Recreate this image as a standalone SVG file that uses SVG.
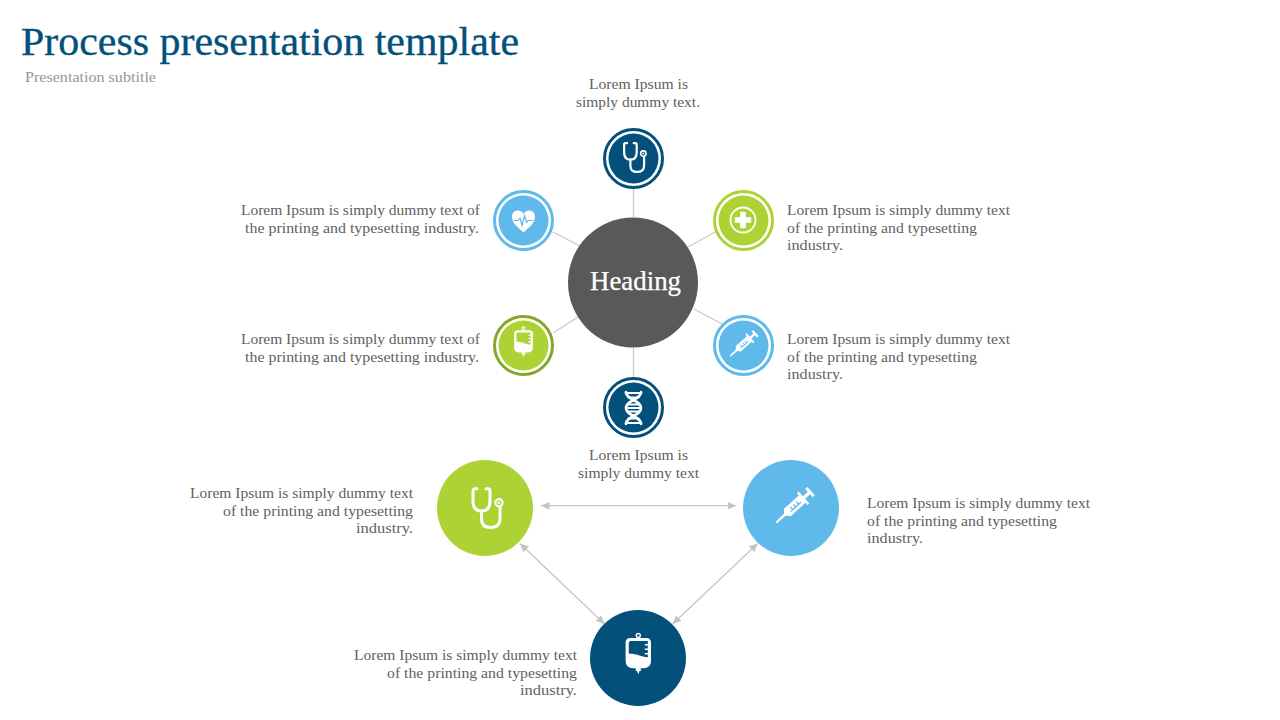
<svg xmlns="http://www.w3.org/2000/svg" width="1280" height="720" viewBox="0 0 1280 720">
<style>
text{font-family:"Liberation Serif","Times New Roman",serif;}
.b{font-size:15.5px;fill:#616161;}
.m{text-anchor:middle}
.title{font-size:40px;fill:#03507b;stroke:#03507b;stroke-width:.35px;}
.sub{font-size:14.5px;fill:#969696;}
.head{font-size:27px;fill:#fff;stroke:#fff;stroke-width:.25px;}
.ln{stroke:#c8c8c8;stroke-width:1.2;fill:none;}
.ar{stroke:#c4c4c4;stroke-width:1.2;fill:none;marker-start:url(#ah);marker-end:url(#ah);}
.wl{fill:none;stroke:#fff;stroke-linecap:round;stroke-linejoin:round;}
.navy{fill:#03507b}.sky{fill:#5fbaeb}.lime{fill:#acd333}
</style>
<defs>
<marker id="ah" markerUnits="userSpaceOnUse" markerWidth="10" markerHeight="9" refX="8.5" refY="4" orient="auto-start-reverse"><path d="M0,0 L8.5,4 L0,8 Z" fill="#c4c4c4"/></marker>
<g id="steth">
<path class="wl" stroke-width="3" d="M-8,-19.3 H-10 Q-12,-19.3 -12,-17 V-7 Q-12,3 -3.5,3 Q5,3 5,-7 V-17 Q5,-19.3 3,-19.3 H1"/>
<path class="wl" stroke-width="3" d="M-3.5,3 V11 Q-3.5,19.5 5.5,19.5 Q15,19.5 15,10 V-1"/>
<circle cx="14" cy="-5.3" r="3.6" fill="none" stroke="#fff" stroke-width="2.2"/>
<circle cx="14" cy="-5.3" r="1.3" fill="#fff"/>
</g>
<g id="syringe">
<g transform="translate(3,-1.5) rotate(-42)">
<path d="M-24,-0.9 L-12,-1.4 L-9,-5 H11 V-8 H13.5 V-1.6 H20 V-5.5 H23 V5.5 H20 V1.6 H13.5 V8 H11 V5 H-9 L-12,1.4 L-24,0.9 Z" fill="#fff"/>
<path d="M-6,1.5 H8 M-3,1.5 V-2 M1,1.5 V-2 M5,1.5 V-2" fill="none" stroke="currentColor" stroke-width="1.3"/>
</g>
</g>
<g id="bag">
<circle cx="0" cy="-22.5" r="2" fill="none" stroke="#fff" stroke-width="1.4"/>
<path d="M-8,-20 H8 Q12.7,-20 12.7,-15 V3 Q12.7,10.3 5,10.3 H2.5 V13 H1.2 L0,16.5 L-1.2,13 H-2.500 V10.3 H-5 Q-12.7,10.3 -12.7,3 V-15 Q-12.7,-20 -8,-20 Z" fill="#fff"/>
<path d="M-7.500,-17 H9.5 V-14 H6.5 V-12.5 H9.5 V-9.5 H6.500 V-8 H9.5 V-5 H6.500 V-3.500 H9.5 V-1 Q9.5,-0.500 8,-0.800 C2,-1.500 -2,-4.500 -9.500,-4.500 V-15 Q-9.500,-17 -7.500,-17 Z" fill="currentColor"/>
</g>
<g id="dna">
<path class="wl" stroke-width="2.6" d="M-7.5,-16 C-7.5,-8 7.5,-8 7.5,0 C7.5,8 -7.5,8 -7.5,16"/>
<path class="wl" stroke-width="2.6" d="M7.5,-16 C7.5,-8 -7.5,-8 -7.5,0 C-7.5,8 7.5,8 7.5,16"/>
<path class="wl" stroke-width="1.8" stroke-linecap="butt" d="M-8,-15 H8 M-5,-10.5 H5 M-5.5,-3.5 H5.5 M-7,0 H7 M-5.5,3.500 H5.5 M-5,10.5 H5 M-8,15 H8"/>
</g>
<g id="heart">
<path d="M0,12.5 C-6,7 -11.5,3 -11.5,-3.5 C-11.5,-7.5 -8.5,-9.5 -5.5,-9.5 C-3,-9.500 -1,-8 0,-6 C1,-8 3,-9.5 5.5,-9.5 C8.5,-9.5 11.500,-7.5 11.500,-3.5 C11.500,3 6,7 0,12.5 Z" fill="#fff"/>
<path d="M-9.500,0.500 H-5.500 L-3.500,-2 L-1.500,5.500 L1,-4.500 L3,2.500 L4.500,0.500 H9.500" fill="none" stroke="currentColor" stroke-width="1.2"/>
</g>
<g id="plus">
<circle r="12.5" fill="none" stroke="#fff" stroke-width="1.8"/>
<path d="M-2.3,-7.8 H2.3 V-2.3 H7.800 V2.300 H2.300 V7.800 H-2.300 V2.300 H-7.800 V-2.300 H-2.300 Z" fill="#fff" stroke="#fff" stroke-linejoin="round"/>
</g>
</defs>

<rect width="1280" height="720" fill="#fff"/>

<text class="title" x="21" y="55" textLength="498" lengthAdjust="spacingAndGlyphs">Process presentation template</text>
<text class="sub" x="25" y="82" textLength="131" lengthAdjust="spacingAndGlyphs">Presentation subtitle</text>

<g id="connectors">
<path class="ln" d="M633.5,189 V217 M633.5,348 V377 M553,232 L580,246 M688,247 L715,232 M553,333 L578,317 M694,309 L722,324"/>
<path class="ar" d="M541,505.7 H736"/>
<path class="ar" d="M520,543.5 L604.5,624"/>
<path class="ar" d="M757.7,543.5 L672.7,624"/>
</g>

<g id="center"><circle cx="633" cy="282.500" r="65" fill="#595959"/><text class="head m" x="635.500" y="289.500" textLength="91" lengthAdjust="spacingAndGlyphs">Heading</text></g>

<g id="n-top">
<circle cx="633.500" cy="158.500" r="29" fill="#fff" stroke="#03507b" stroke-width="3"/><circle class="navy" cx="633.500" cy="158.500" r="25"/>
<use href="#steth" transform="translate(633,157.500) scale(.74)"/>
<text class="b"><tspan x="589" y="89" textLength="99" lengthAdjust="spacingAndGlyphs">Lorem Ipsum is</tspan><tspan x="576" y="107" textLength="124" lengthAdjust="spacingAndGlyphs">simply dummy text.</tspan></text>
</g>
<g id="n-ul">
<circle cx="523.500" cy="220.500" r="29" fill="#fff" stroke="#5fbaeb" stroke-width="3"/><circle class="sky" cx="523.500" cy="220.500" r="25"/>
<use href="#heart" x="523.500" y="220" color="#5fbaeb"/>
<text class="b"><tspan x="241" y="215" textLength="239" lengthAdjust="spacingAndGlyphs">Lorem Ipsum is simply dummy text of</tspan><tspan x="245" y="233" textLength="234" lengthAdjust="spacingAndGlyphs">the printing and typesetting industry.</tspan></text>
</g>
<g id="n-ur">
<circle cx="743.500" cy="220.500" r="29" fill="#fff" stroke="#acd333" stroke-width="3"/><circle class="lime" cx="743.500" cy="220.500" r="25"/>
<use href="#plus" x="743" y="220"/>
<text class="b"><tspan x="787" y="215" textLength="223" lengthAdjust="spacingAndGlyphs">Lorem Ipsum is simply dummy text</tspan><tspan x="787" y="233" textLength="190" lengthAdjust="spacingAndGlyphs">of the printing and typesetting</tspan><tspan x="787" y="250" textLength="56" lengthAdjust="spacingAndGlyphs">industry.</tspan></text>
</g>
<g id="n-ll">
<circle cx="523.500" cy="345.500" r="29" fill="#fff" stroke="#86a629" stroke-width="3"/><circle class="lime" cx="523.500" cy="345.500" r="25"/>
<use href="#bag" transform="translate(523.500,345) scale(.74)" color="#acd333"/>
<text class="b"><tspan x="241" y="344" textLength="239" lengthAdjust="spacingAndGlyphs">Lorem Ipsum is simply dummy text of</tspan><tspan x="245" y="362" textLength="234" lengthAdjust="spacingAndGlyphs">the printing and typesetting industry.</tspan></text>
</g>
<g id="n-lr">
<circle cx="743.500" cy="345.500" r="29" fill="#fff" stroke="#5fbaeb" stroke-width="3"/><circle class="sky" cx="743.500" cy="345.500" r="25"/>
<use href="#syringe" transform="translate(741,345.500) scale(.74)" color="#5fbaeb"/>
<text class="b"><tspan x="787" y="344" textLength="223" lengthAdjust="spacingAndGlyphs">Lorem Ipsum is simply dummy text</tspan><tspan x="787" y="362" textLength="190" lengthAdjust="spacingAndGlyphs">of the printing and typesetting</tspan><tspan x="787" y="379" textLength="56" lengthAdjust="spacingAndGlyphs">industry.</tspan></text>
</g>
<g id="n-bot">
<circle cx="633.500" cy="407.500" r="29" fill="#fff" stroke="#03507b" stroke-width="3"/><circle class="navy" cx="633.500" cy="407.500" r="25"/>
<use href="#dna" x="633.500" y="408"/>
<text class="b"><tspan x="589" y="460" textLength="99" lengthAdjust="spacingAndGlyphs">Lorem Ipsum is</tspan><tspan x="578" y="478" textLength="121" lengthAdjust="spacingAndGlyphs">simply dummy text</tspan></text>
</g>

<g id="big-left">
<circle class="lime" cx="485" cy="508" r="48"/>
<use href="#steth" x="485" y="508"/>
<text class="b"><tspan x="190" y="498" textLength="223" lengthAdjust="spacingAndGlyphs">Lorem Ipsum is simply dummy text</tspan><tspan x="223" y="516" textLength="190" lengthAdjust="spacingAndGlyphs">of the printing and typesetting</tspan><tspan x="356" y="533" textLength="57" lengthAdjust="spacingAndGlyphs">industry.</tspan></text>
</g>
<g id="big-right">
<circle class="sky" cx="791" cy="508" r="48"/>
<use href="#syringe" x="791" y="508" color="#5fbaeb"/>
<text class="b"><tspan x="867" y="508" textLength="223" lengthAdjust="spacingAndGlyphs">Lorem Ipsum is simply dummy text</tspan><tspan x="867" y="526" textLength="190" lengthAdjust="spacingAndGlyphs">of the printing and typesetting</tspan><tspan x="867" y="543" textLength="56" lengthAdjust="spacingAndGlyphs">industry.</tspan></text>
</g>
<g id="big-bottom">
<circle class="navy" cx="638" cy="658" r="48"/>
<use href="#bag" x="638.300" y="658" color="#03507b"/>
<text class="b"><tspan x="354" y="660" textLength="223" lengthAdjust="spacingAndGlyphs">Lorem Ipsum is simply dummy text</tspan><tspan x="387" y="678" textLength="190" lengthAdjust="spacingAndGlyphs">of the printing and typesetting</tspan><tspan x="520" y="695" textLength="57" lengthAdjust="spacingAndGlyphs">industry.</tspan></text>
</g>
</svg>
